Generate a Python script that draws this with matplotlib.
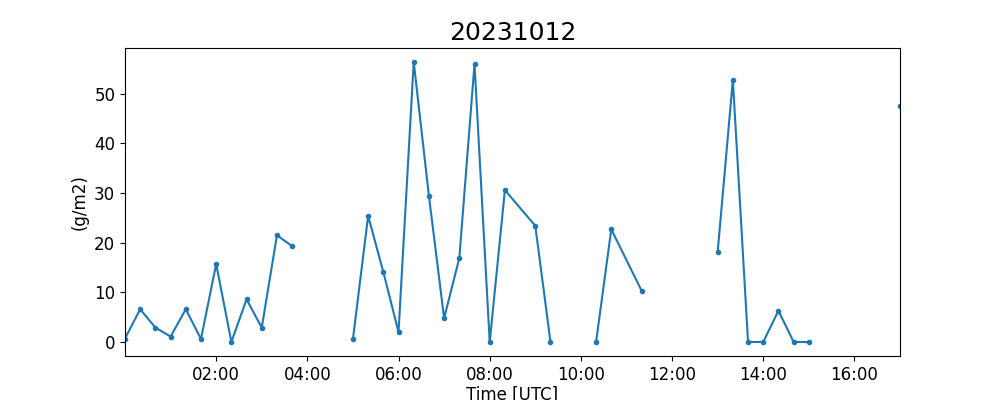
#!/usr/bin/env python3
"""Time series of (g/m2) for 20231012, with gaps where data are missing."""

import numpy as np
import pandas as pd
import matplotlib
matplotlib.use("Agg")
import matplotlib.pyplot as plt
import matplotlib.dates as mdates

DAY = "2023-10-12"

# Observation times (HH:MM, UTC); NaN entries break the line at data gaps
times = [
    "00:00", "00:20", "00:40", "01:00", "01:20", "01:40", "02:00", "02:20",
    "02:40", "03:00", "03:20", "03:40", "04:00",
    "05:00", "05:20", "05:40", "06:00", "06:20", "06:40", "07:00", "07:20",
    "07:40", "08:00", "08:20", "09:00", "09:20", "09:40",
    "10:20", "10:40", "11:20", "11:40",
    "13:00", "13:20", "13:40", "14:00", "14:20", "14:40", "15:00", "15:20",
    "17:00",
]
values = [
    0.7, 6.6, 2.9, 1.1, 6.6, 0.6, 15.7, 0.0,
    8.6, 2.9, 21.5, 19.3, np.nan,
    0.6, 25.4, 14.1, 2.0, 56.4, 29.4, 4.8, 16.9,
    56.0, 0.0, 30.6, 23.4, 0.0, np.nan,
    0.0, 22.7, 10.3, np.nan,
    18.1, 52.8, 0.0, 0.0, 6.3, 0.0, 0.0, np.nan,
    47.6,
]


def main() -> None:
    t = pd.to_datetime([f"{DAY} {s}" for s in times])
    y = np.array(values, dtype=float)

    fig, ax = plt.subplots(figsize=(10, 4), dpi=100)
    ax.plot(t, y, marker=".", color="#1f77b4")

    ax.set_xlim(pd.Timestamp(f"{DAY} 00:00"), pd.Timestamp(f"{DAY} 17:00"))
    ax.xaxis.set_major_locator(mdates.HourLocator(byhour=range(2, 24, 2)))
    ax.xaxis.set_major_formatter(mdates.DateFormatter("%H:%M"))

    ax.set_title("20231012", fontsize=18)
    ax.set_xlabel("Time [UTC]", fontsize=12, labelpad=1.5)
    ax.set_ylabel("(g/m2)", fontsize=12)
    ax.tick_params(labelsize=12)

    fig.savefig("out.png", dpi=100)


if __name__ == "__main__":
    main()
